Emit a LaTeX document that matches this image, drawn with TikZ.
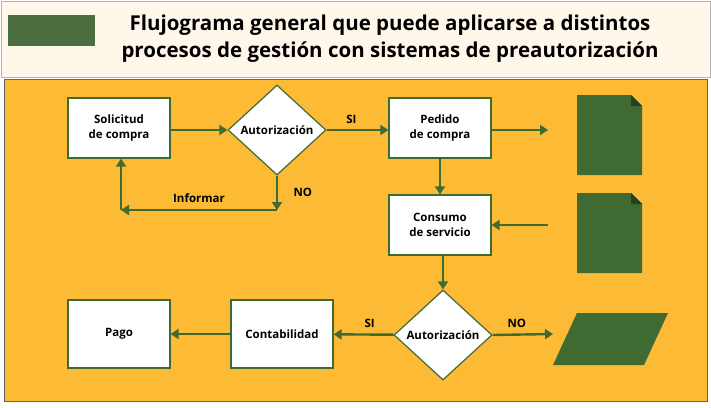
\documentclass[tikz,border=0pt]{standalone}
\usepackage{fontspec}
\setmainfont{Open Sans}
\usetikzlibrary{shapes.geometric, arrows.meta, positioning}
\definecolor{leaf}{HTML}{3F6B33}
\definecolor{panel}{HTML}{FDBA35}
\definecolor{cream}{HTML}{FFF8EA}

\begin{document}
\begin{tikzpicture}[x=1pt, y=-1pt,
        step_box/.style={
            draw=leaf, line width=1.2pt, rectangle, fill=white, minimum width=102pt,
            minimum height=60pt, align=center, font=\bfseries\fontsize{11.5}{15}\selectfont
        },
        check_box/.style={
            draw=leaf, line width=1.2pt, diamond, aspect=1.05, fill=white,
            inner sep=0pt, minimum width=98pt, minimum height=90pt,
            font=\bfseries\fontsize{11.5}{14}\selectfont
        },
        flow/.style={draw=leaf, line width=2.4pt, -{Triangle[length=8pt, width=10pt]}},
        tag/.style={font=\bfseries\fontsize{11.5}{14}\selectfont}
    ]

    % Background
    \useasboundingbox (0,0) rectangle (711,407);
    \fill[cream, draw=gray!60] (1,1) rectangle (710,77);
    \fill[leaf!80!gray] (8,15) rectangle (95,46);
    \fill[panel, draw=gray!80!black, line width=1pt] (4,79) rectangle (707,401);
    \node[font=\bfseries\fontsize{20.5}{27}\selectfont, align=center] (title) at (390,39)
        {Flujograma general que puede aplicarse a distintos\\procesos de gestión con sistemas de preautorización};

    % Nodes
    \node[step_box] (solicitud) at (119,128) {Solicitud\\de compra};
    \node[check_box] (auth1) at (277,130) {Autorización};
    \node[step_box] (pedido) at (440,128) {Pedido\\de compra};
    \node[step_box] (consumo) at (440,225) {Consumo\\de servicio};
    \node[check_box] (auth2) at (443,335) {Autorización};
    \node[step_box, minimum height=68pt] (contab) at (282,334) {Contabilidad};
    \node[step_box, minimum height=68pt] (pago) at (119,334) {Pago};

    % Documents
    \foreach \y/\n in {95/doc1, 193/doc2} {
        \fill[leaf] (577,\y) -- (631,\y) -- (642,\y+11) -- (642,\y+80) -- (577,\y+80) -- cycle;
        \fill[leaf!60!black] (631,\y) -- (631,\y+11) -- (642,\y+11) -- cycle;
        \coordinate (\n) at (577,\y+40);
    }
    \fill[leaf] (577,313) -- (668,313) -- (644,365) -- (553,365) -- cycle;
    \coordinate (cuenta) at (553,334);

    % Connectors
    \coordinate (no1) at (277,210);
    \coordinate (back) at (121,210);
    \coordinate (ped_out) at (548,130);
    \coordinate (doc_in) at (548,225);
    \draw[flow] (auth1.west -| solicitud.east) -- (auth1.west);
    \draw[flow] (auth1.east) -- node[tag, above=2pt, pos=0.4] {SI} (auth1.east -| pedido.west);
    \draw[flow] (auth1.south) -- node[tag, right=12pt] {NO} (no1);
    \draw[flow] (no1) -- node[tag, above=3pt, pos=0.5] {Informar} (back);
    \draw[flow] (back) -- (solicitud.south -| back);
    \draw[flow] (ped_out -| pedido.east) -- (ped_out);
    \draw[flow] (pedido) -- (consumo);
    \draw[flow] (doc_in) -- (consumo.east);
    \draw[flow] (consumo.south -| auth2) -- (auth2.north);
    \draw[flow] (auth2) -- node[tag, above=2pt, pos=0.4] {SI} (contab);
    \draw[flow] (auth2.east) -- node[tag, above=2pt, pos=0.4] {NO} (cuenta);
    \draw[flow] (contab) -- (pago);

\end{tikzpicture}
\end{document}
